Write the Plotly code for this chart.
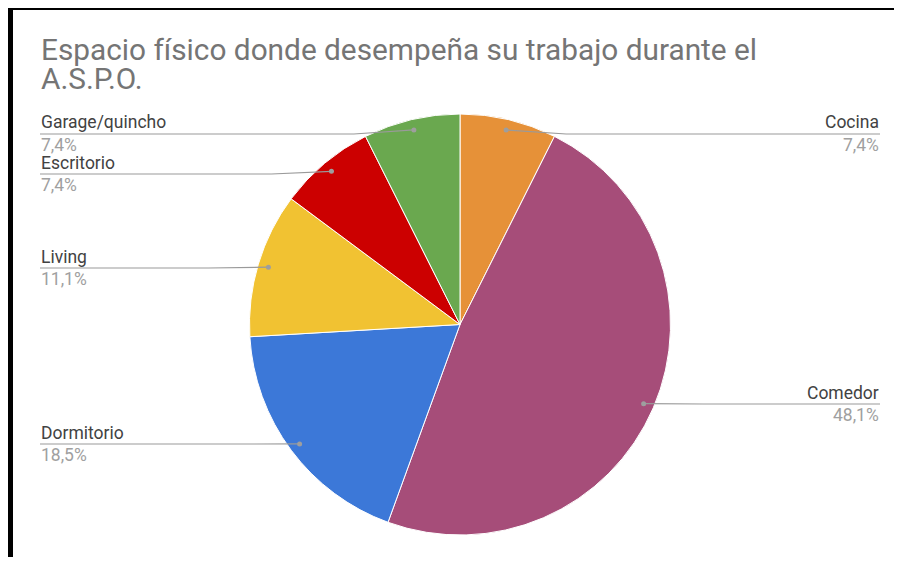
import math
import plotly.graph_objects as go

# ---- data ----
categories = ["Cocina", "Comedor", "Dormitorio", "Living", "Escritorio", "Garage/quincho"]
counts = [2, 13, 5, 3, 2, 2]
colors = ["#E69138", "#A64D79", "#3C78D8", "#F1C232", "#CC0000", "#6AA84F"]
title_lines = ["Espacio físico donde desempeña su trabajo durante el", "A.S.P.O."]

# ---- layout constants (page pixels) ----
OFF = 8                      # browser body margin
FW, FH = 886, 549
CX, CY, R = 460, 324.5, 210.5
label_line_y = [134, 404, 444, 268, 174, 134]
LEFT_X, RIGHT_X = 40, 880
FONT = "Roboto, Arial, sans-serif"


def fx(x):
    return (x - OFF) / FW


def fy(y):
    return 1 - (y - OFF) / FH


total = sum(counts)

fig = go.Figure()
fig.add_trace(go.Pie(
    labels=categories, values=counts, sort=False, direction="clockwise", rotation=0,
    marker=dict(colors=colors, line=dict(color="white", width=1)),
    textinfo="none", hoverinfo="label+percent", showlegend=False,
    domain=dict(x=[fx(CX - R), fx(CX + R)], y=[fy(CY + R), fy(CY - R)]),
))

shapes = []
annotations = []
cum = 0
for cat, v, ly in zip(categories, counts, label_line_y):
    mid = (cum + v / 2) / total * 2 * math.pi
    cum += v
    dx, dy = math.sin(mid), -math.cos(mid)
    px, py = CX + 0.95 * R * dx, CY + 0.95 * R * dy
    right = dx > 0
    end_x = RIGHT_X if right else LEFT_X
    bend_x = px + (60 if right else -60)
    shapes.append(dict(type="path", xref="paper", yref="paper",
                       path=f"M {fx(px)},{fy(py)} L {fx(bend_x)},{fy(ly)} L {fx(end_x)},{fy(ly)}",
                       line=dict(color="#9a9a9a", width=1.2)))
    shapes.append(dict(type="circle", xref="paper", yref="paper",
                       x0=fx(px - 2.5), x1=fx(px + 2.5), y0=fy(py + 2.5), y1=fy(py - 2.5),
                       fillcolor="#9e9e9e", line=dict(width=0)))
    pct = f"{v / total * 100:.1f}".replace(".", ",") + "%"
    anchor = "right" if right else "left"
    annotations.append(dict(x=fx(end_x), y=fy(ly - 11.5), xref="paper", yref="paper", text=cat,
                            showarrow=False, xanchor=anchor, yanchor="middle", borderpad=0,
                            font=dict(family=FONT, size=17.5, color="#424242")))
    annotations.append(dict(x=fx(end_x), y=fy(ly + 11), xref="paper", yref="paper", text=pct,
                            showarrow=False, xanchor=anchor, yanchor="middle", borderpad=0,
                            font=dict(family=FONT, size=17.5, color="#a0a0a0")))

# title
for i, t in enumerate(title_lines):
    annotations.append(dict(x=fx(40), y=fy(49 + 29 * i), xref="paper", yref="paper", text=t,
                            showarrow=False, xanchor="left", yanchor="middle", borderpad=0,
                            font=dict(family=FONT, size=29.8, color="#757575")))

# frame (left and top black bars)
shapes.append(dict(type="rect", xref="paper", yref="paper", x0=0, x1=fx(13), y0=0, y1=1,
                   fillcolor="black", line=dict(width=0)))
shapes.append(dict(type="rect", xref="paper", yref="paper", x0=0, x1=1, y0=fy(10), y1=1,
                   fillcolor="black", line=dict(width=0)))

fig.update_layout(
    width=FW, height=FH, margin=dict(l=0, r=0, t=0, b=0),
    paper_bgcolor="white",
    shapes=shapes, annotations=annotations,
)
fig.write_html("out.html")
